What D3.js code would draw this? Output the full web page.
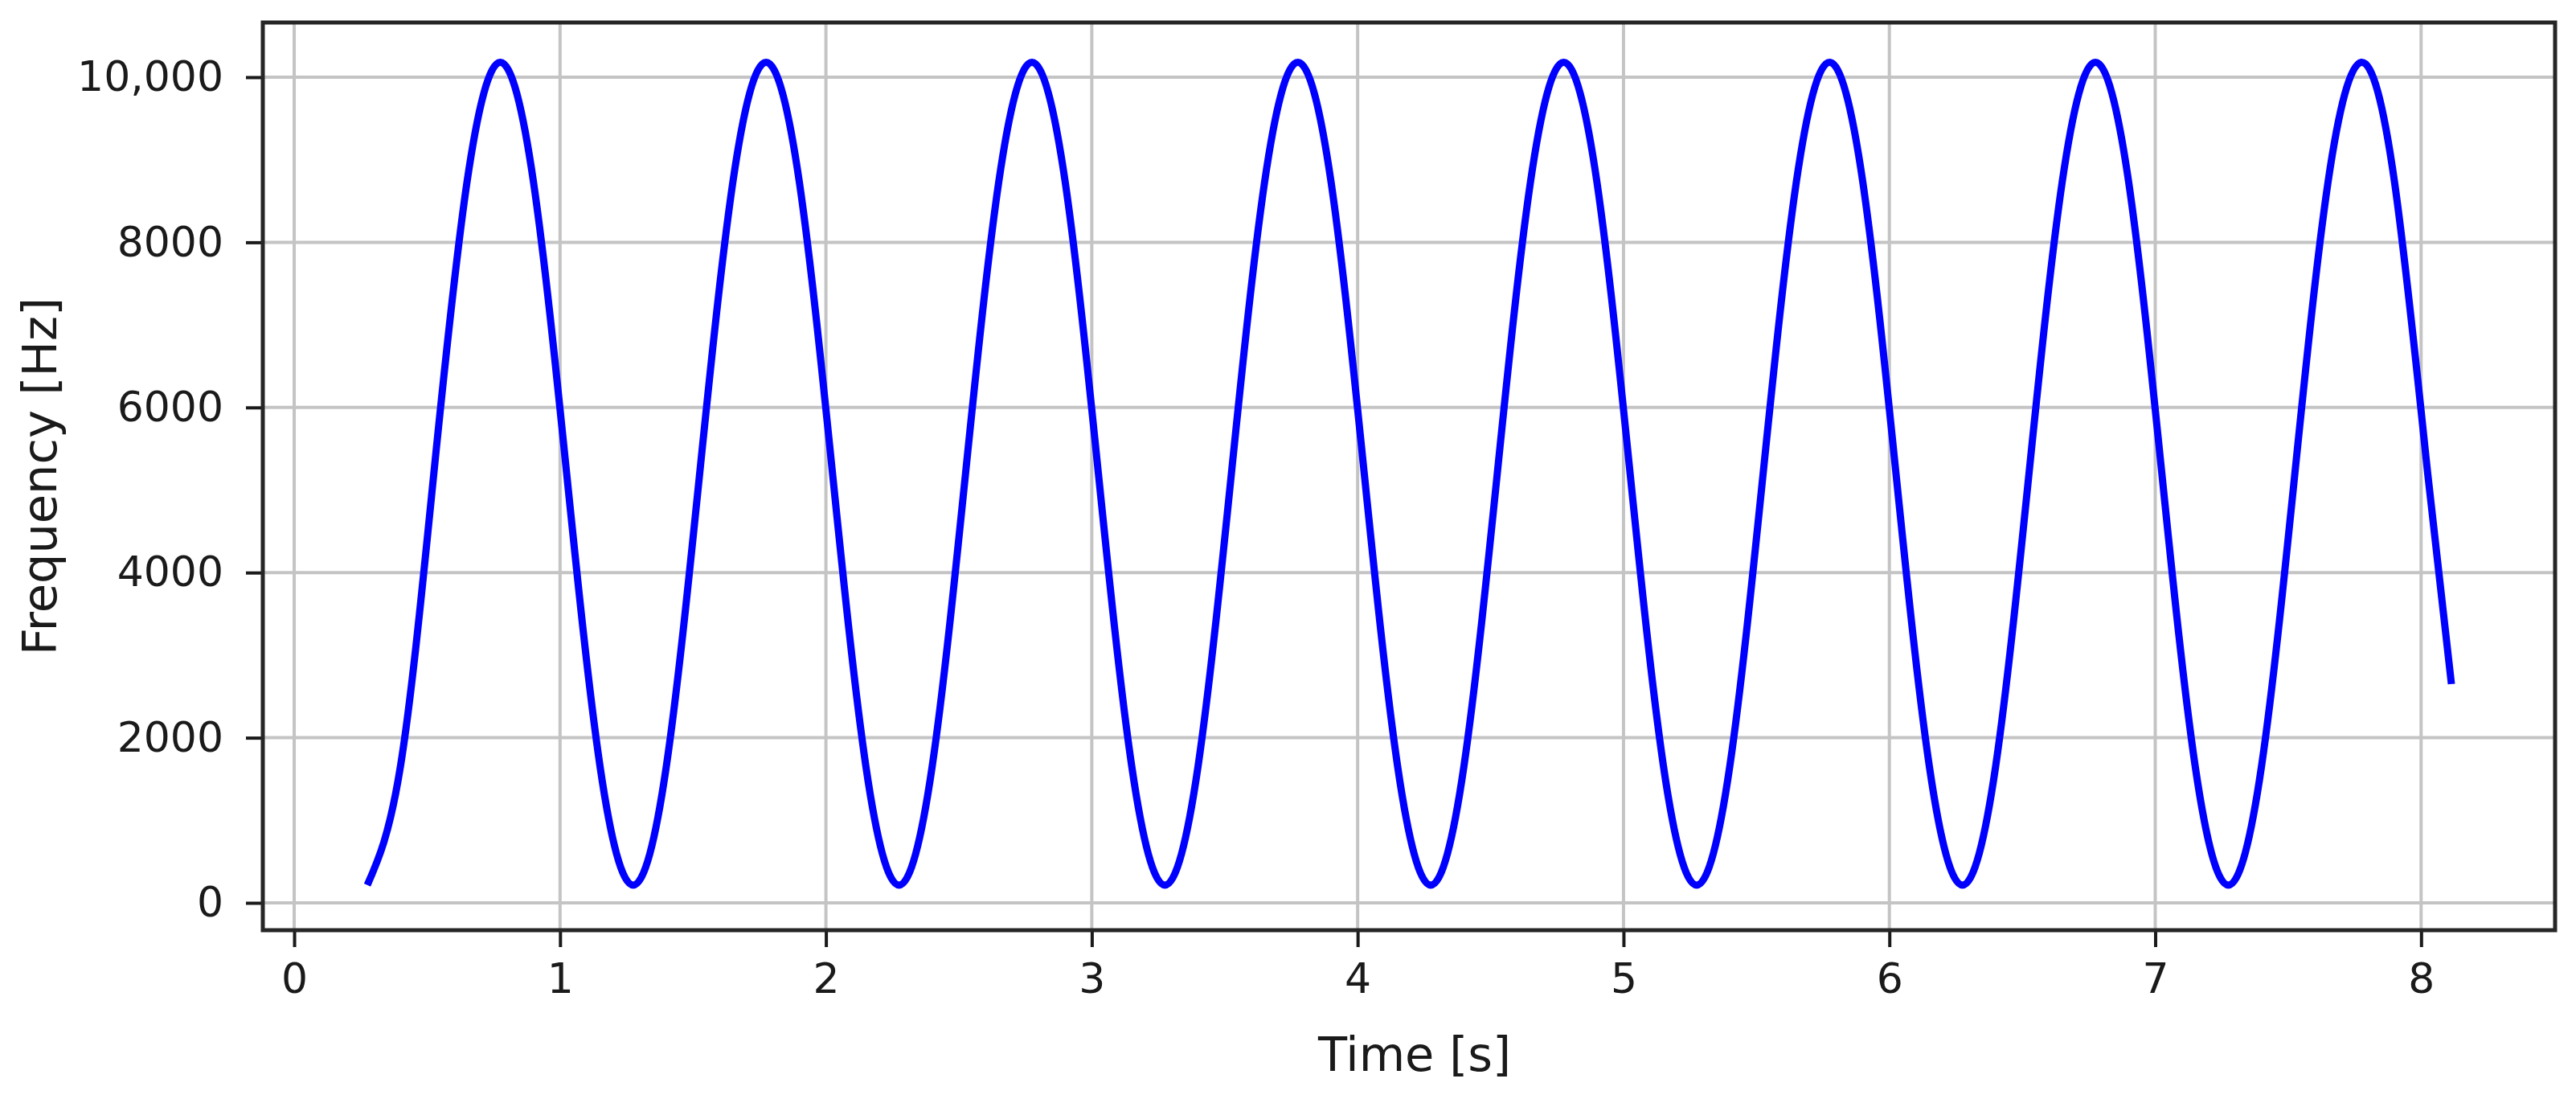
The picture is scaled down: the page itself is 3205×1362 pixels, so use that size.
<!DOCTYPE html>
<html>
<head>
<meta charset="utf-8">
<script src="https://cdn.jsdelivr.net/npm/d3@7"></script>
<style>
  body { margin: 0; background: #fff; }
  text { font-family: "DejaVu Sans", sans-serif; fill: #1a1a1a; }
</style>
</head>
<body>
<svg id="chart" width="3205" height="1362"></svg>
<script>
// values (s, Hz)
var times = [
  0.275, 0.4, 0.525, 0.65, 0.775, 0.9, 1.025, 1.15,
  1.275, 1.4, 1.525, 1.65, 1.775, 1.9, 2.025, 2.15,
  2.275, 2.4, 2.525, 2.65, 2.775, 2.9, 3.025, 3.15,
  3.275, 3.4, 3.525, 3.65, 3.775, 3.9, 4.025, 4.15,
  4.275, 4.4, 4.525, 4.65, 4.775, 4.9, 5.025, 5.15,
  5.275, 5.4, 5.525, 5.65, 5.775, 5.9, 6.025, 6.15,
  6.275, 6.4, 6.525, 6.65, 6.775, 6.9, 7.025, 7.15,
  7.275, 7.4, 7.525, 7.65, 7.775, 7.9, 8.025, 8.114
];
var freqs = [
  215, 1660, 5195, 8730, 10180, 8730, 5195, 1660,
  215, 1660, 5195, 8730, 10180, 8730, 5195, 1660,
  215, 1660, 5195, 8730, 10180, 8730, 5195, 1660,
  215, 1660, 5195, 8730, 10180, 8730, 5195, 1660,
  215, 1660, 5195, 8730, 10180, 8730, 5195, 1660,
  215, 1660, 5195, 8730, 10180, 8730, 5195, 1660,
  215, 1660, 5195, 8730, 10180, 8730, 5195, 1660,
  215, 1660, 5195, 8730, 10180, 8730, 5195, 2650
];
var xTicks = [0, 1, 2, 3, 4, 5, 6, 7, 8];
var yTicks = [0, 2000, 4000, 6000, 8000, 10000];
var yTickLabels = ["0", "2000", "4000", "6000", "8000", "10,000"];

var svg = d3.select("#chart");
var margin = { left: 327, right: 26, top: 28, bottom: 205 };
var width = 3205 - margin.left - margin.right;
var height = 1362 - margin.top - margin.bottom;

var x = d3.scaleLinear().domain([-0.118, 8.504]).range([0, width]);
var y = d3.scaleLinear().domain([-331, 10662]).range([height, 0]);

svg.append("rect").attr("width", 3205).attr("height", 1362).attr("fill", "#fff");

var g = svg.append("g")
    .attr("transform", "translate(" + margin.left + "," + margin.top + ")");

// grid
g.append("g")
  .selectAll("line.vgrid")
  .data(xTicks)
  .enter().append("line")
    .attr("x1", function(d) { return x(d); })
    .attr("x2", function(d) { return x(d); })
    .attr("y1", 0)
    .attr("y2", height)
    .style("stroke", "#c4c4c4")
    .style("stroke-width", 4);

g.append("g")
  .selectAll("line.hgrid")
  .data(yTicks)
  .enter().append("line")
    .attr("x1", 0)
    .attr("x2", width)
    .attr("y1", function(d) { return y(d); })
    .attr("y2", function(d) { return y(d); })
    .style("stroke", "#c4c4c4")
    .style("stroke-width", 4);

// the series
var points = times.map(function(t, i) { return [t, freqs[i]]; });

var line = d3.line()
    .x(function(d) { return x(d[0]); })
    .y(function(d) { return y(d[1]); })
    .curve(d3.curveNatural);

g.append("path")
    .datum(points)
    .attr("d", line)
    .attr("fill", "none")
    .style("stroke", "#0000ff")
    .style("stroke-width", 9)
    .style("stroke-linejoin", "round");

// axes
var xAxis = d3.axisBottom(x)
    .tickValues(xTicks)
    .tickFormat(d3.format("d"))
    .tickSize(21)
    .tickPadding(20);

var yAxis = d3.axisLeft(y)
    .tickValues(yTicks)
    .tickFormat(function(d, i) { return yTickLabels[i]; })
    .tickSize(21)
    .tickPadding(28);

var gx = g.append("g")
    .attr("transform", "translate(0," + height + ")")
    .call(xAxis);

var gy = g.append("g").call(yAxis);

[gx, gy].forEach(function(ax) {
  ax.select(".domain").remove();
  ax.selectAll(".tick line").style("stroke", "#1a1a1a").style("stroke-width", 4);
  ax.selectAll(".tick text")
    .style("font-size", "52px")
    .style("font-family", "'DejaVu Sans', sans-serif")
    .attr("fill", "#1a1a1a");
});

// frame
g.append("rect")
    .attr("x", 0)
    .attr("y", 0)
    .attr("width", width)
    .attr("height", height)
    .attr("fill", "none")
    .style("stroke", "#262626")
    .style("stroke-width", 5);

// labels
svg.append("text")
    .text("Time [s]")
    .attr("x", 1760)
    .attr("y", 1332)
    .attr("text-anchor", "middle")
    .style("font-size", "59px");

svg.append("text")
    .text("Frequency [Hz]")
    .attr("text-anchor", "middle")
    .attr("transform", "translate(70," + (margin.top + height / 2) + ") rotate(-90)")
    .style("font-size", "59px");
</script>
</body>
</html>
